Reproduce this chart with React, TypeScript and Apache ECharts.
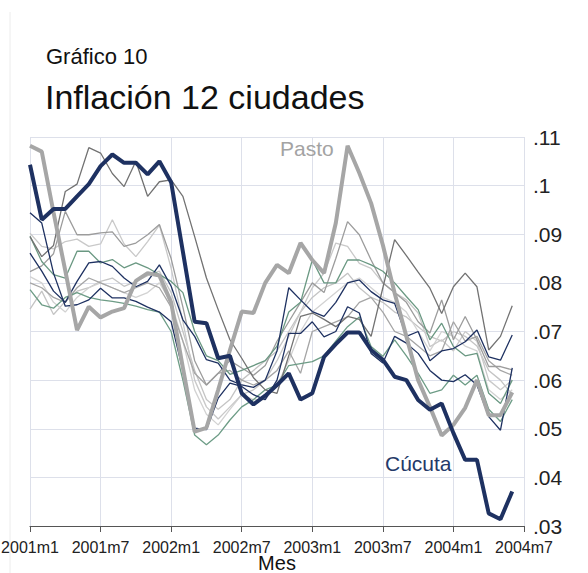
import React, { useEffect, useRef } from "react";
import * as echarts from "echarts";

const months: string[] = [];
for (let y = 2001; y <= 2004; y++) {
  for (let m = 1; m <= 12; m++) {
    if (y === 2004 && m > 7) break;
    months.push(`${y}m${m}`);
  }
}

const yTicks = [0.03, 0.04, 0.05, 0.06, 0.07, 0.08, 0.09, 0.1, 0.11];

const cucuta = [0.1043, 0.0930, 0.0952, 0.0952, 0.0978, 0.1003, 0.1040, 0.1064, 0.1047, 0.1047, 0.1023, 0.1050,
  0.1007, 0.0864, 0.0720, 0.0717, 0.0645, 0.0650, 0.0573, 0.0550, 0.0568, 0.0590, 0.0614, 0.0560,
  0.0573, 0.0648, 0.0674, 0.0698, 0.0698, 0.0662, 0.0642, 0.0607, 0.0600, 0.0559, 0.0539, 0.0552,
  0.0491, 0.0436, 0.0436, 0.0326, 0.0314, 0.0371];
const pasto = [0.1082, 0.1070, 0.0945, 0.0825, 0.0703, 0.0751, 0.0729, 0.0741, 0.0748, 0.0804, 0.0820, 0.0815,
  0.0760, 0.0625, 0.0494, 0.0502, 0.0580, 0.0662, 0.0741, 0.0738, 0.0800, 0.0837, 0.0820, 0.0882,
  0.0847, 0.0820, 0.0923, 0.1082, 0.1026, 0.0964, 0.0878, 0.0779, 0.0690, 0.0600, 0.0545, 0.0486,
  0.0508, 0.0543, 0.0600, 0.0528, 0.0528, 0.0575];
const darkGrayCity = [0.0895, 0.0854, 0.0877, 0.0988, 0.1003, 0.1078, 0.1067, 0.1025, 0.0998, 0.1050, 0.0978, 0.1008,
  0.1012, 0.0978, 0.0895, 0.0810, 0.0745, 0.0683, 0.0645, 0.0605, 0.0580, 0.0573, 0.0650, 0.0731,
  0.0738, 0.0725, 0.0710, 0.0731, 0.0725, 0.0690, 0.0790, 0.0889, 0.0856, 0.0822, 0.0789, 0.0737,
  0.0792, 0.0820, 0.0792, 0.0662, 0.0690, 0.0753];
const midGrayCityA = [0.0823, 0.0835, 0.0860, 0.0947, 0.0899, 0.0899, 0.0903, 0.0905, 0.0875, 0.0882, 0.0899, 0.0920,
  0.0850, 0.0750, 0.0640, 0.0590, 0.0614, 0.0640, 0.0625, 0.0610, 0.0630, 0.0680, 0.0720, 0.0760,
  0.0800, 0.0780, 0.0850, 0.0926, 0.0899, 0.0847, 0.0800, 0.0780, 0.0760, 0.0720, 0.0697, 0.0765,
  0.0683, 0.0731, 0.0683, 0.0628, 0.0628, 0.0621];
const lightGrayCityA = [0.0902, 0.0875, 0.0870, 0.0885, 0.0890, 0.0875, 0.0880, 0.0930, 0.0880, 0.0854, 0.0885, 0.0919,
  0.0830, 0.0720, 0.0600, 0.0545, 0.0520, 0.0545, 0.0570, 0.0580, 0.0600, 0.0640, 0.0690, 0.0740,
  0.0790, 0.0820, 0.0882, 0.0875, 0.0840, 0.0830, 0.0800, 0.0780, 0.0765, 0.0738, 0.0669, 0.0683,
  0.0660, 0.0700, 0.0680, 0.0600, 0.0580, 0.0600];
const navyCityA = [0.0944, 0.0923, 0.0820, 0.0752, 0.0755, 0.0765, 0.0789, 0.0769, 0.0769, 0.0762, 0.0750, 0.0740,
  0.0720, 0.0620, 0.0501, 0.0498, 0.0563, 0.0594, 0.0587, 0.0570, 0.0560, 0.0600, 0.0696, 0.0696,
  0.0720, 0.0689, 0.0700, 0.0751, 0.0738, 0.0655, 0.0635, 0.0690, 0.0676, 0.0655, 0.0620, 0.0600,
  0.0597, 0.0611, 0.0590, 0.0525, 0.0497, 0.0625];
const navyCityB = [0.0861, 0.0824, 0.0783, 0.0760, 0.0803, 0.0841, 0.0844, 0.0834, 0.0810, 0.0792, 0.0803, 0.0837,
  0.0793, 0.0724, 0.0690, 0.0642, 0.0635, 0.0600, 0.0590, 0.0585, 0.0600, 0.0660, 0.0790, 0.0765,
  0.0741, 0.0731, 0.0760, 0.0800, 0.0806, 0.0782, 0.0765, 0.0758, 0.0690, 0.0700, 0.0640, 0.0660,
  0.0665, 0.0679, 0.0703, 0.0648, 0.0641, 0.0693];
const midGrayCityB = [0.0800, 0.0790, 0.0770, 0.0760, 0.0790, 0.0810, 0.0800, 0.0790, 0.0780, 0.0790, 0.0800, 0.0790,
  0.0750, 0.0680, 0.0614, 0.0590, 0.0614, 0.0620, 0.0600, 0.0590, 0.0600, 0.0620, 0.0660, 0.0614,
  0.0700, 0.0710, 0.0720, 0.0730, 0.0760, 0.0770, 0.0740, 0.0700, 0.0690, 0.0670, 0.0650, 0.0660,
  0.0720, 0.0680, 0.0690, 0.0640, 0.0620, 0.0610];
const sageCityA = [0.0896, 0.0844, 0.0817, 0.0810, 0.0865, 0.0865, 0.0841, 0.0848, 0.0831, 0.0841, 0.0831, 0.0817,
  0.0803, 0.0780, 0.0700, 0.0650, 0.0640, 0.0612, 0.0620, 0.0630, 0.0640, 0.0670, 0.0740, 0.0760,
  0.0847, 0.0800, 0.0800, 0.0847, 0.0847, 0.0837, 0.0824, 0.0800, 0.0772, 0.0745, 0.0683, 0.0717,
  0.0669, 0.0650, 0.0655, 0.0573, 0.0552, 0.0600];
const sageCityB = [0.0786, 0.0755, 0.0748, 0.0770, 0.0780, 0.0770, 0.0765, 0.0762, 0.0758, 0.0752, 0.0745, 0.0740,
  0.0700, 0.0600, 0.0487, 0.0467, 0.0487, 0.0518, 0.0545, 0.0560, 0.0580, 0.0590, 0.0630, 0.0634,
  0.0638, 0.0650, 0.0680, 0.0710, 0.0730, 0.0669, 0.0649, 0.0683, 0.0650, 0.0614, 0.0573, 0.0580,
  0.0610, 0.0590, 0.0610, 0.0540, 0.0515, 0.0560];
const lightGrayCityB = [0.0813, 0.0800, 0.0760, 0.0740, 0.0770, 0.0790, 0.0800, 0.0790, 0.0780, 0.0770, 0.0780, 0.0800,
  0.0760, 0.0680, 0.0580, 0.0530, 0.0508, 0.0540, 0.0570, 0.0560, 0.0560, 0.0590, 0.0640, 0.0700,
  0.0740, 0.0760, 0.0780, 0.0800, 0.0810, 0.0790, 0.0770, 0.0760, 0.0740, 0.0700, 0.0660, 0.0700,
  0.0690, 0.0670, 0.0660, 0.0580, 0.0560, 0.0580];
const lightGrayCityC = [0.0746, 0.0783, 0.0735, 0.0762, 0.0783, 0.0790, 0.0803, 0.0810, 0.0793, 0.0803, 0.0815, 0.0824,
  0.0780, 0.0700, 0.0620, 0.0560, 0.0540, 0.0560, 0.0600, 0.0620, 0.0640, 0.0660, 0.0700, 0.0740,
  0.0770, 0.0790, 0.0800, 0.0820, 0.0790, 0.0770, 0.0760, 0.0740, 0.0730, 0.0710, 0.0690, 0.0680,
  0.0700, 0.0690, 0.0670, 0.0620, 0.0600, 0.0570];

const NAVY = "#1e3161";
const FONT = "'Liberation Sans', Arial, Helvetica, sans-serif";

const thin = [
  { name: "c1", data: lightGrayCityC, color: "#c4c4c4" },
  { name: "c2", data: lightGrayCityB, color: "#d2d2d2" },
  { name: "c3", data: lightGrayCityA, color: "#c9c9c9" },
  { name: "c4", data: midGrayCityB, color: "#a5a5a5" },
  { name: "c5", data: midGrayCityA, color: "#9c9c9c" },
  { name: "c6", data: sageCityB, color: "#6d9c86" },
  { name: "c7", data: sageCityA, color: "#6a9882" },
  { name: "c8", data: darkGrayCity, color: "#727272" },
  { name: "c9", data: navyCityA, color: NAVY },
  { name: "c10", data: navyCityB, color: NAVY },
];

export default function App() {
  const ref = useRef<HTMLDivElement>(null);
  useEffect(() => {
    if (!ref.current) return;
    const chart = echarts.init(ref.current, undefined, { renderer: "svg" });
    const series: any[] = thin.map((s) => ({
      name: s.name,
      type: "line",
      data: s.data,
      symbol: "none",
      silent: true,
      lineStyle: { width: 1.3, color: s.color },
      z: 2,
    }));
    series.push({
      name: "Pasto",
      type: "line",
      data: pasto,
      symbol: "none",
      silent: true,
      lineStyle: { width: 4, color: "#a6a6a6" },
      z: 3,
    });
    series.push({
      name: "Cúcuta",
      type: "line",
      data: cucuta,
      symbol: "none",
      silent: true,
      lineStyle: { width: 4, color: NAVY },
      z: 4,
    });
    chart.setOption({
      animation: false,
      backgroundColor: "#ffffff",
      textStyle: { fontFamily: FONT },
      grid: { left: 30, right: 64, top: 137, bottom: 47, containLabel: false, outerBoundsMode: "none" },
      xAxis: {
        type: "category",
        data: months,
        boundaryGap: false,
        axisLine: { show: true, lineStyle: { color: "#555", width: 1.2 } },
        axisTick: { show: true, interval: 5, length: 6, lineStyle: { color: "#555" } },
        axisLabel: { interval: 5, fontSize: 16, color: "#222", margin: 13, fontFamily: FONT },
        splitLine: { show: true, interval: 5, lineStyle: { color: "#dde0ea", width: 1 } },
      },
      yAxis: {
        type: "value",
        position: "right",
        min: yTicks[0],
        max: yTicks[yTicks.length - 1],
        interval: 0.01,
        axisLine: { show: false },
        axisTick: { show: false },
        axisLabel: {
          fontSize: 21,
          color: "#222",
          margin: 9,
          fontFamily: FONT,
          formatter: (v: number) => {
            let s = v.toFixed(2).replace(/^0/, "");
            if (s.endsWith("0")) s = s.slice(0, -1);
            return s;
          },
        },
        splitLine: { show: true, lineStyle: { color: "#dde0ea", width: 1 } },
      },
      graphic: [
        {
          type: "line",
          shape: { x1: 10, y1: 12, x2: 10, y2: 573 },
          style: { stroke: "#ececec", lineWidth: 1 },
          silent: true,
        },
        {
          type: "text",
          x: 46,
          y: 56,
          style: { text: "Gráfico 10", fontSize: 22, fill: "#111", fontFamily: FONT, verticalAlign: "middle" },
        },
        {
          type: "text",
          x: 45,
          y: 97,
          style: { text: "Inflación 12 ciudades", fontSize: 34, fill: "#111", fontFamily: FONT, verticalAlign: "middle" },
        },
        {
          type: "text",
          x: 277,
          y: 563,
          style: { text: "Mes", fontSize: 20, fill: "#111", fontFamily: FONT, align: "center", verticalAlign: "middle" },
        },
        {
          type: "text",
          x: 280,
          y: 148,
          z: 10,
          style: { text: "Pasto", fontSize: 21, fill: "#a3a3a3", fontFamily: FONT, verticalAlign: "middle" },
        },
        {
          type: "text",
          x: 385,
          y: 463,
          z: 10,
          style: { text: "Cúcuta", fontSize: 21, fill: "#243968", fontFamily: FONT, verticalAlign: "middle" },
        },
      ],
      series,
    });
    return () => chart.dispose();
  }, []);
  return (
    <div style={{ position: "absolute", left: 0, top: 0, width: 588, height: 573, background: "#fff" }}>
      <div ref={ref} style={{ width: 588, height: 573 }} />
    </div>
  );
}
